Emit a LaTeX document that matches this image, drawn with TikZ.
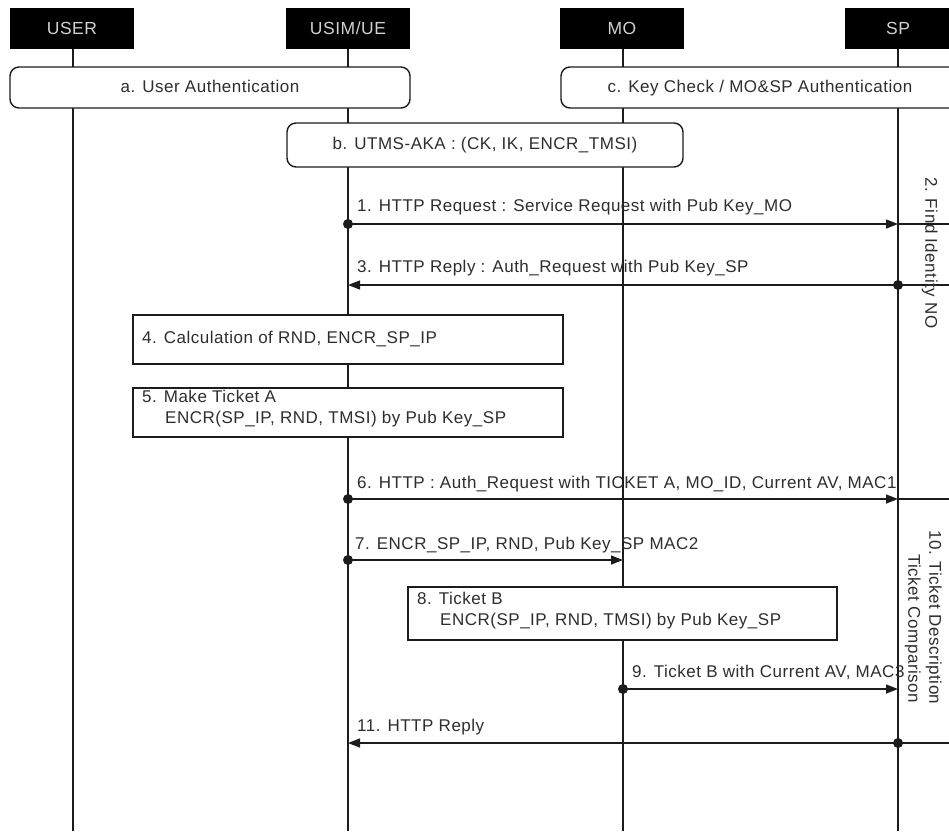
\documentclass[tikz,border=0pt]{standalone}
\usepackage{fontspec}
\setmainfont{Liberation Sans}[LetterSpace=3.0]
\usetikzlibrary{arrows.meta}
\definecolor{ink}{HTML}{1C1C1C}
\definecolor{txt}{HTML}{2E2E2E}
\definecolor{headtxt}{HTML}{D0D0D0}
\begin{document}
\begin{tikzpicture}[x=1pt,y=-1pt,
  lbl/.style={font=\fontsize{17}{21}\selectfont, text=txt, inner sep=0pt},
  head/.style={fill=black, text=headtxt, minimum height=41pt, minimum width=124pt,
    inner sep=0pt, font=\fontsize{17.5}{20}\selectfont},
  life/.style={draw=ink, line width=1.3pt},
  phase/.style={draw=ink, fill=white, rounded corners=9pt, line width=1.4pt,
    minimum height=41pt, inner sep=0pt, text height=12.5pt, text depth=3.5pt, lbl},
  act/.style={draw=ink, fill=white, line width=1.4pt, inner sep=0pt},
  msg/.style={draw=ink, line width=1.3pt, -{Triangle[length=12pt,width=9pt]}},
  wire/.style={draw=ink, line width=1.3pt},
  dot/.style={circle, fill=ink, inner sep=0pt, minimum size=10pt}
]
\clip (0,0) rectangle (949,831);
\fill[white] (0,0) rectangle (949,831);

% participants
\node[head] (user) at (72,28.5) {USER};
\node[head] (ue) at (348,28.5) {USIM/UE};
\node[head] (mo) at (622,28.5) {MO};
\node[head, minimum width=106pt] (sp) at (898,28.5) {SP};

% lifelines
\coordinate (userend) at (73,831);
\coordinate (ueend) at (348,831);
\coordinate (moend) at (623,831);
\coordinate (spend) at (898,831);
\draw[life] (73,49) -- (userend);
\draw[life] (348,49) -- (ueend);
\draw[life] (623,49) -- (moend);
\draw[life] (898,49) -- (spend);

% phases
\node[phase, minimum width=400pt] (pa) at (210,87.5) {a. User Authentication};
\node[phase, minimum width=398pt] (pc) at (760,87.5) {c. Key Check / MO\&SP Authentication};
\node[phase, minimum width=396pt, minimum height=44pt] (pb) at (485,145) {b. UTMS-AKA : (CK, IK, ENCR\_TMSI)};

% local actions
\node[act, minimum width=430pt, minimum height=49pt] (s4) at (348,339.5) {};
\node[lbl, anchor=west] (s4t) at (142,339.5) {4. Calculation of RND, ENCR\_SP\_IP};
\node[act, minimum width=430pt, minimum height=49pt] (s5) at (348,412.5) {};
\node[lbl, anchor=north west, align=left] (s5t) at (142,390) {5. Make Ticket A\\\hspace*{23pt}ENCR(SP\_IP, RND, TMSI) by Pub Key\_SP};
\node[act, minimum width=429pt, minimum height=53pt] (s8) at (622.5,613.5) {};
\node[lbl, anchor=north west, align=left] (s8t) at (417,592) {8. Ticket B\\\hspace*{23pt}ENCR(SP\_IP, RND, TMSI) by Pub Key\_SP};

% message anchor points
\coordinate (m1a) at (348,224); \coordinate (m1b) at (898,224); \coordinate (m1c) at (949,224);
\coordinate (m3a) at (348,285); \coordinate (m3b) at (898,285); \coordinate (m3c) at (949,285);
\coordinate (m6a) at (348,499); \coordinate (m6b) at (898,499); \coordinate (m6c) at (949,499);
\coordinate (m7a) at (348,560); \coordinate (m7b) at (623,560);
\coordinate (m9a) at (623,689); \coordinate (m9b) at (898,689);
\coordinate (m11a) at (348,743); \coordinate (m11b) at (898,743); \coordinate (m11c) at (949,743);

% messages
\draw[msg] (m1a) -- (m1b); \draw[wire] (m1b) -- (m1c);
\node[dot] (d1) at (m1a) {};
\node[lbl, anchor=base west] (l1) at (357,211) {1. HTTP Request : Service Request with Pub Key\_MO};

\draw[msg] (m3b) -- (m3a); \draw[wire] (m3b) -- (m3c);
\node[dot] (d3) at (m3b) {};
\node[lbl, anchor=base west] (l3) at (357,272) {3. HTTP Reply : Auth\_Request with Pub Key\_SP};

\draw[msg] (m6a) -- (m6b); \draw[wire] (m6b) -- (m6c);
\node[dot] (d6) at (m6a) {};
\node[lbl, anchor=base west] (l6) at (357,488) {6. HTTP : Auth\_Request with TICKET A, MO\_ID, Current AV, MAC1};

\draw[msg] (m7a) -- (m7b);
\node[dot] (d7) at (m7a) {};
\node[lbl, anchor=base west] (l7) at (355,549) {7. ENCR\_SP\_IP, RND, Pub Key\_SP MAC2};

\draw[msg] (m9a) -- (m9b);
\node[dot] (d9) at (m9a) {};
\node[lbl, anchor=base west] (l9) at (632,677) {9. Ticket B with Current AV, MAC3};

\draw[msg] (m11b) -- (m11a); \draw[wire] (m11b) -- (m11c);
\node[dot] (d11) at (m11b) {};
\node[lbl, anchor=base west] (l11) at (357,731) {11. HTTP Reply};

% processing notes on the SP side
\node[lbl, rotate=-90, anchor=north west] (n2) at (938,177) {2. Find Identity NO};
\node[lbl, rotate=-90, anchor=north west, align=left] (n10) at (942,530) {10. Ticket Description\\\hspace*{24pt}Ticket Comparison};
\end{tikzpicture}
\end{document}
